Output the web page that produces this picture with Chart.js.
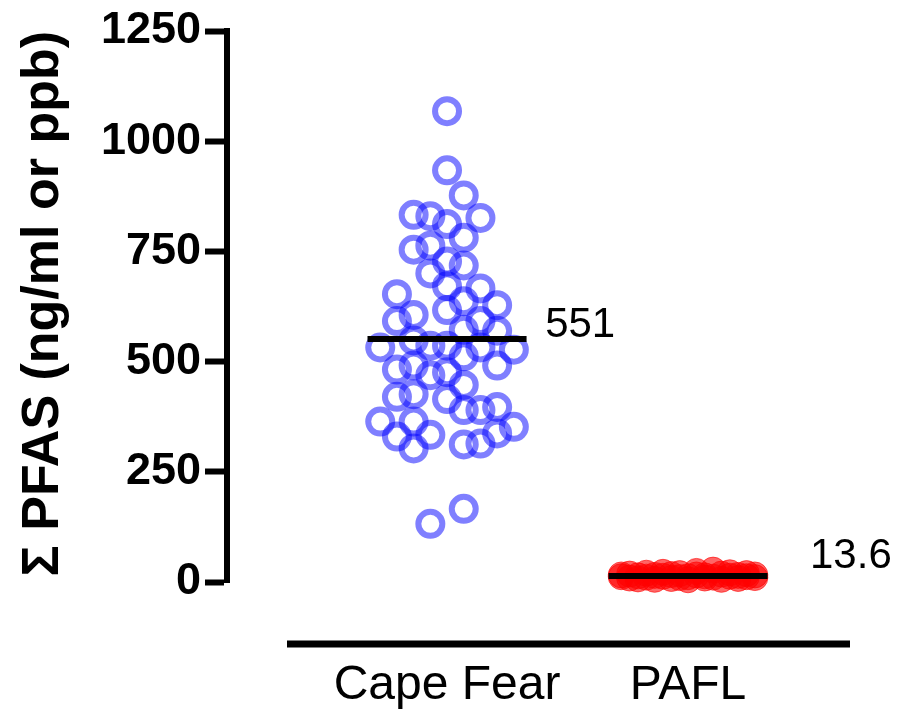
<!DOCTYPE html>
<html>
<head>
<meta charset="utf-8">
<script src="https://cdn.jsdelivr.net/npm/chart.js@4.4.0/dist/chart.umd.min.js"></script>
<style>
  html, body { margin: 0; padding: 0; background: #fff; }
</style>
</head>
<body>
<canvas id="pfas-chart" width="897" height="713"></canvas>
<script>
// groups on the x axis
var categories = ['Cape Fear', 'PAFL'];
var yTicks = [0, 250, 500, 750, 1000, 1250];

// Cape Fear: swarm lane of each dot and its value (ng/ml)
var capeFearLane = [0, 0, 1, -2, -1, 2, 0, 1, -2, -1, 0, 1, -1, -3, 0, 2, 1, 3, 0, -2,
  -3, 2, 1, 3, -4, -2, -1, 0, 2, 4, 1, -3, -2, 0, 3, -1, 1, -3, -2, 0,
  -4, -2, 1, 2, 3, -3, -1, 4, 3, -2, 1, 2, -1, 1];
var capeFearValues = [1068, 934, 877, 833, 830, 826, 812, 781, 754, 763, 727, 718, 700, 653, 671, 666, 637, 628, 617, 606,
  592, 592, 572, 570, 532, 548, 536, 536, 532, 527, 512, 482, 491, 476, 491, 469, 447, 420, 426, 415,
  364, 364, 390, 390, 397, 330, 334, 352, 337, 303, 312, 314, 132, 166];

// PAFL
var paflLane = [-4, -4, -3.5, -3.5, -3, -3, -2.5, -2.5, -2, -2, -1.5, -1.5, -1, -1, -0.5, -0.5, 0, 0,
  0.5, 0.5, 1, 1, 1.5, 1.5, 2, 2, 2.5, 2.5, 3, 3, 3.5, 3.5, 4, 4];
var paflValues = [12, 16, 9, 18, 14, 7, 20, 11, 6, 15, 13, 22, 8, 17, 19, 10, 12, 5,
  16, 24, 9, 14, 27, 11, 6, 18, 13, 21, 8, 15, 12, 19, 10, 16];

// group means
var means = [551, 13.6];
var meanLabels = ['551', '13.6'];

var LANE = 0.0693;     // width of one swarm lane in x units
var HALF_LINE = 0.33;  // half width of the mean bar
var FONT = '"Liberation Sans", Arial, Helvetica, sans-serif';

function toPoints(cat, lanes, values) {
  return values.map(function (v, i) {
    return { x: cat + lanes[i] * LANE, y: v };
  });
}

function meanLine(cat, m) {
  return [{ x: cat - HALF_LINE, y: m }, { x: cat + HALF_LINE, y: m }];
}

// x axis line (offset from the y axis) and the mean labels
var extras = {
  id: 'extras',
  afterDraw: function (chart) {
    var ctx = chart.ctx;
    var area = chart.chartArea;
    var xs = chart.scales.x;
    var ys = chart.scales.y;
    ctx.save();
    ctx.strokeStyle = '#000';
    ctx.lineWidth = 7;
    ctx.beginPath();
    ctx.moveTo(area.left + 60, area.bottom + 62);
    ctx.lineTo(area.right, area.bottom + 62);
    ctx.stroke();

    ctx.fillStyle = '#000';
    ctx.font = '42px ' + FONT;
    ctx.textAlign = 'left';
    ctx.textBaseline = 'middle';
    var anchors = [{ x: 1.407, y: 581 }, { x: 2.506, y: 58 }];
    meanLabels.forEach(function (txt, i) {
      ctx.fillText(txt, xs.getPixelForValue(anchors[i].x), ys.getPixelForValue(anchors[i].y));
    });
    ctx.restore();
  }
};

function generateChart() {
  var ctx = document.getElementById('pfas-chart').getContext('2d');
  new Chart(ctx, {
    type: 'scatter',
    data: {
      datasets: [
        {
          type: 'line',
          data: meanLine(1, means[0]),
          borderColor: '#000',
          borderWidth: 6,
          pointRadius: 0,
          order: 0,
          clip: false
        },
        {
          type: 'line',
          data: meanLine(2, means[1]),
          borderColor: '#000',
          borderWidth: 6,
          pointRadius: 0,
          order: 0,
          clip: false
        },
        {
          label: categories[0],
          data: toPoints(1, capeFearLane, capeFearValues),
          pointRadius: 12,
          borderWidth: 6,
          borderColor: 'rgba(0, 0, 255, 0.5)',
          backgroundColor: 'rgba(0, 0, 0, 0)',
          order: 1,
          clip: false
        },
        {
          label: categories[1],
          data: toPoints(2, paflLane, paflValues),
          pointRadius: 13,
          borderWidth: 1,
          borderColor: 'rgba(255, 0, 0, 0.6)',
          backgroundColor: 'rgba(255, 0, 0, 0.6)',
          order: 1,
          clip: false
        }
      ]
    },
    options: {
      responsive: false,
      animation: false,
      devicePixelRatio: 1,
      layout: { padding: { top: 25, right: 47, bottom: 0, left: 0 } },
      plugins: {
        legend: { display: false },
        tooltip: { enabled: false }
      },
      scales: {
        x: {
          type: 'linear',
          min: 0.087,
          max: 2.672,
          afterBuildTicks: function (scale) {
            scale.ticks = [{ value: 1 }, { value: 2 }];
          },
          afterFit: function (scale) { scale.height = 131; },
          ticks: {
            callback: function (v, i) { return categories[i]; },
            font: { family: FONT, size: 48 },
            color: '#000',
            padding: 75,
            maxRotation: 0,
            autoSkip: false
          },
          grid: { display: false, drawTicks: false },
          border: { display: false }
        },
        y: {
          min: yTicks[0],
          max: yTicks[yTicks.length - 1],
          afterBuildTicks: function (scale) {
            scale.ticks = yTicks.map(function (v) { return { value: v }; });
          },
          afterFit: function (scale) { scale.width = 227; },
          ticks: {
            callback: function (v) { return String(v); },
            font: { family: FONT, size: 45, weight: 'bold' },
            color: '#000',
            padding: 4
          },
          grid: {
            display: true,
            drawOnChartArea: false,
            drawTicks: true,
            tickLength: 22,
            tickWidth: 6,
            tickColor: '#000'
          },
          border: { display: true, color: '#000', width: 6 },
          title: {
            display: true,
            text: 'Σ PFAS (ng/ml or ppb)',
            align: 'end',
            font: { family: FONT, size: 52, weight: 'bold' },
            color: '#000',
            padding: { top: 12, bottom: 0 }
          }
        }
      }
    },
    plugins: [extras]
  });
}

generateChart();
</script>
</body>
</html>
